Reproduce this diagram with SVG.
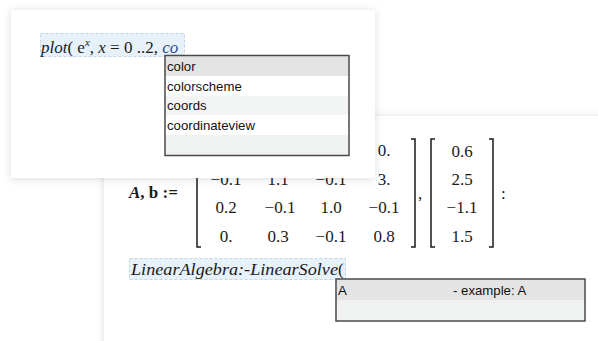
<svg xmlns="http://www.w3.org/2000/svg" width="598" height="341" viewBox="0 0 598 341">
<defs>
<filter id="sh" x="-10%" y="-10%" width="120%" height="120%">
<feDropShadow dx="0" dy="1" stdDeviation="4" flood-color="#000" flood-opacity="0.14"/>
</filter>
</defs>
<style>
.math{font-family:"Liberation Serif","Times New Roman",serif;font-size:17px;fill:#1a1a1a}
.it{font-style:italic}
.ui{font-family:"Liberation Sans",Arial,sans-serif;font-size:13.2px;fill:#111}
.hl{fill:#e7f1fa;stroke:#c4d5e4;stroke-width:1;stroke-dasharray:3 2}
.box{fill:none;stroke:#4a4a4a;stroke-width:1.5}
.br{fill:none;stroke:#1a1a1a;stroke-width:1.5}
.c{text-anchor:middle}
</style>
<rect width="598" height="341" fill="#fff"/>

<g id="panel-back">
<rect x="104" y="116" width="520" height="260" fill="#fff" filter="url(#sh)"/>
</g>

<g id="matrix-assign">
<text class="math" x="129" y="198"><tspan font-style="italic" font-weight="bold">A</tspan><tspan font-weight="bold">, b</tspan> <tspan font-weight="bold">:=</tspan></text>
<path class="br" d="M201,139 H197 V247 H201"/>
<path class="br" d="M411,139 H415 V247 H411"/>
<g class="math c">
<text x="226" y="156">0.</text><text x="278" y="156">0.</text><text x="331" y="156">0.</text><text x="384" y="156">0.</text>
<text x="226" y="185">−0.1</text><text x="278" y="185">1.1</text><text x="331" y="185">−0.1</text><text x="384" y="185">3.</text>
<text x="226" y="213">0.2</text><text x="280" y="213">−0.1</text><text x="331" y="213">1.0</text><text x="384" y="213">−0.1</text>
<text x="226" y="242">0.</text><text x="278" y="242">0.3</text><text x="331" y="242">−0.1</text><text x="384" y="242">0.8</text>
</g>
<text class="math" x="418" y="199">,</text>
<path class="br" d="M435,139 H431 V247 H435"/>
<path class="br" d="M489,139 H493 V247 H489"/>
<g class="math c">
<text x="462" y="157">0.6</text>
<text x="462" y="185">2.5</text>
<text x="462" y="213">−1.1</text>
<text x="462" y="242">1.5</text>
</g>
<text class="math" x="501" y="199">:</text>
</g>

<g id="linsolve-input">
<rect class="hl" x="129.5" y="258.5" width="216" height="21"/>
<text class="math" x="131" y="275"><tspan font-style="italic" textLength="207" lengthAdjust="spacingAndGlyphs">LinearAlgebra:-LinearSolve</tspan>(</text>
</g>

<g id="dropdown-2">
<rect x="336" y="279" width="249" height="21" fill="#e4e4e4"/>
<rect x="336" y="300" width="249" height="21" fill="#f0f1f1"/>
<rect class="box" x="336" y="279" width="249" height="42"/>
<text class="ui" x="338" y="295">A</text>
<text class="ui" x="453" y="295">- example: A</text>
</g>

<g id="panel-top">
<rect x="11" y="10" width="364" height="168" fill="#fff" filter="url(#sh)"/>
</g>

<g id="plot-input">
<rect class="hl" x="40.5" y="33.5" width="144" height="23"/>
<text class="math" x="41" y="53" font-size="17.4"><tspan class="it">plot</tspan>( e<tspan font-size="11" dy="-7" class="it">x</tspan><tspan dy="7">, </tspan><tspan class="it">x</tspan> = 0 ..2, <tspan class="it" fill="#2c4a8c">co</tspan></text>
</g>

<g id="dropdown-1">
<rect x="165" y="56" width="184" height="20" fill="#e4e4e4"/>
<rect x="165" y="76" width="184" height="20" fill="#ffffff"/>
<rect x="165" y="96" width="184" height="19" fill="#f3f4f4"/>
<rect x="165" y="115" width="184" height="20" fill="#ffffff"/>
<rect x="165" y="135" width="184" height="20" fill="#f0f1f1"/>
<rect class="box" x="165" y="55.5" width="184" height="100"/>
<text class="ui" x="167" y="71">color</text>
<text class="ui" x="167" y="91">colorscheme</text>
<text class="ui" x="167" y="110">coords</text>
<text class="ui" x="167" y="130">coordinateview</text>
</g>
</svg>
